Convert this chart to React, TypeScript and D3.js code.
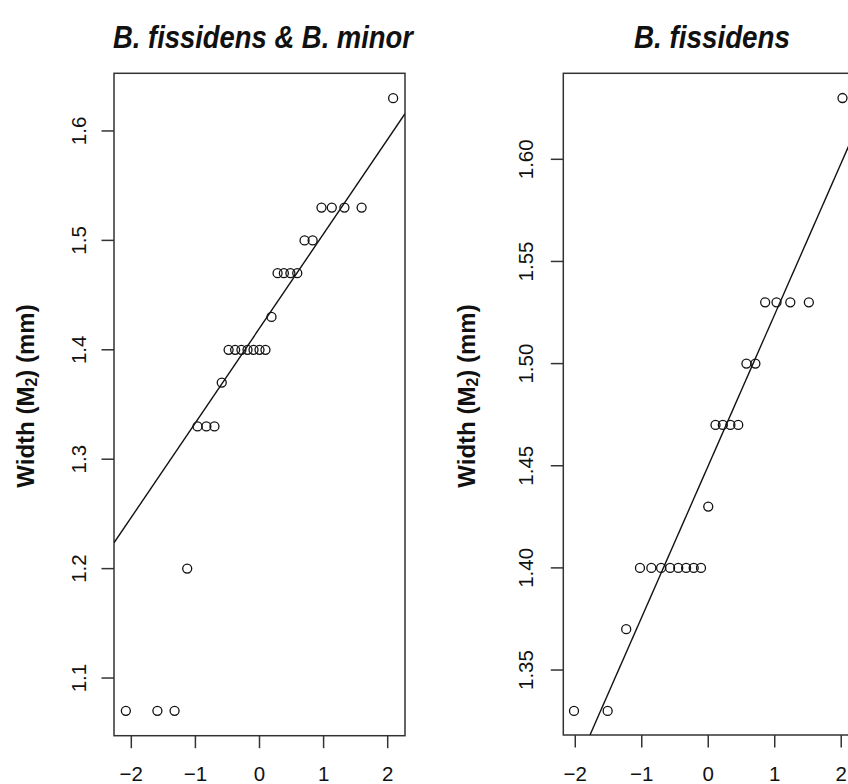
import React from "react";
import * as d3 from "d3";

// Left panel: B. fissidens & B. minor (normal Q-Q plot)
const leftTheoretical = [
  -2.085, -1.593, -1.325, -1.128, -0.967, -0.829, -0.703, -0.589, -0.482,
  -0.38, -0.282, -0.187, -0.093, 0, 0.093, 0.187, 0.282, 0.38, 0.482, 0.589,
  0.703, 0.829, 0.967, 1.128, 1.325, 1.593, 2.085,
];
const leftWidth = [
  1.07, 1.07, 1.07, 1.2, 1.33, 1.33, 1.33, 1.37, 1.4, 1.4, 1.4, 1.4, 1.4, 1.4,
  1.4, 1.43, 1.47, 1.47, 1.47, 1.47, 1.5, 1.5, 1.53, 1.53, 1.53, 1.53, 1.63,
];
const leftLine = { intercept: 1.4197, slope: 0.0864 };
const leftYTicks = [1.1, 1.2, 1.3, 1.4, 1.5, 1.6];

// Right panel: B. fissidens
const rightTheoretical = [
  -2.019, -1.513, -1.234, -1.027, -0.856, -0.709, -0.574, -0.451, -0.333,
  -0.219, -0.109, 0, 0.109, 0.219, 0.333, 0.451, 0.574, 0.709, 0.856, 1.027,
  1.234, 1.513, 2.019,
];
const rightWidth = [
  1.33, 1.33, 1.37, 1.4, 1.4, 1.4, 1.4, 1.4, 1.4, 1.4, 1.4, 1.43, 1.47, 1.47,
  1.47, 1.47, 1.5, 1.5, 1.53, 1.53, 1.53, 1.53, 1.63,
];
const rightLine = { intercept: 1.45, slope: 0.0741 };
const rightYTicks = [1.35, 1.4, 1.45, 1.5, 1.55, 1.6];

const xTicks = [-2, -1, 0, 1, 2];
const titles = ["B. fissidens & B. minor", "B. fissidens"];

const FONT = "'Liberation Sans', Arial, Helvetica, sans-serif";
const AXIS = "#333";

type PanelProps = {
  id: string;
  title: string;
  titleX: number;
  titleLen: number;
  xs: number[];
  ys: number[];
  line: { intercept: number; slope: number };
  yTicks: number[];
  yFmt: (v: number) => string;
  xDomain: [number, number];
  xRange: [number, number];
  yDomain: [number, number];
  yRange: [number, number];
  yLabelX: number;
  yTickLabelX: number;
};

function Panel(p: PanelProps) {
  const x = d3.scaleLinear().domain(p.xDomain).range(p.xRange);
  const y = d3.scaleLinear().domain(p.yDomain).range(p.yRange);
  const [x0, x1] = p.xRange;
  const [yb, yt] = p.yRange;
  const lineGen = d3
    .line<number>()
    .x((d) => x(d))
    .y((d) => y(p.line.intercept + p.line.slope * d));
  return (
    <g>
      <defs>
        <clipPath id={`clip-${p.id}`}>
          <rect x={x0} y={yt} width={x1 - x0} height={yb - yt} />
        </clipPath>
      </defs>
      <text
        x={p.titleX - p.titleLen / 2}
        y={48}
        fontFamily={FONT}
        fontWeight="bold"
        fontStyle="italic"
        fontSize={31}
        textLength={p.titleLen}
        lengthAdjust="spacingAndGlyphs"
        fill="#111"
      >
        {p.title}
      </text>
      <rect
        x={x0}
        y={yt}
        width={x1 - x0}
        height={yb - yt}
        fill="none"
        stroke={AXIS}
        strokeWidth={1.5}
      />
      {/* x axis */}
      {xTicks.map((t) => (
        <g key={`xt${t}`}>
          <line x1={x(t)} x2={x(t)} y1={yb} y2={yb + 12.5} stroke={AXIS} strokeWidth={1.5} />
          <text
            x={x(t)}
            y={781}
            textAnchor="middle"
            fontFamily={FONT}
            fontSize={20.5}
            fill="#111"
          >
            {t < 0 ? `\u2212${Math.abs(t)}` : `${t}`}
          </text>
        </g>
      ))}
      {/* y axis */}
      {p.yTicks.map((t) => (
        <g key={`yt${t}`}>
          <line x1={x0 - 12.5} x2={x0} y1={y(t)} y2={y(t)} stroke={AXIS} strokeWidth={1.5} />
          <text
            transform={`translate(${p.yTickLabelX},${y(t)}) rotate(-90)`}
            textAnchor="middle"
            fontFamily={FONT}
            fontSize={20.5}
            fill="#111"
          >
            {p.yFmt(t)}
          </text>
        </g>
      ))}
      <text
        transform={`translate(${p.yLabelX},396) rotate(-90)`}
        textAnchor="middle"
        fontFamily={FONT}
        fontWeight="bold"
        fontSize={24}
        fill="#111"
      >
        Width (M
        <tspan fontSize={16} dy={3}>2</tspan>
        <tspan dy={-3}>) (mm)</tspan>
      </text>
      <path
        d={lineGen(p.xDomain) || ""}
        fill="none"
        stroke="#111"
        strokeWidth={1.4}
        clipPath={`url(#clip-${p.id})`}
      />
      {p.xs.map((v, i) => (
        <circle
          key={i}
          cx={x(v)}
          cy={y(p.ys[i])}
          r={4.5}
          fill="none"
          stroke="#111"
          strokeWidth={1.3}
        />
      ))}
    </g>
  );
}

export default function App() {
  return (
    <svg
      width={848}
      height={784}
      viewBox="0 0 848 784"
      style={{ position: "absolute", left: 0, top: 0, background: "#fff" }}
    >
      <rect x={0} y={0} width={848} height={784} fill="#fff" />
      <Panel
        id="left"
        title={titles[0]}
        titleX={263}
        titleLen={300}
        xs={leftTheoretical}
        ys={leftWidth}
        line={leftLine}
        yTicks={leftYTicks}
        yFmt={d3.format(".1f")}
        xDomain={[-2.27, 2.27]}
        xRange={[114, 405]}
        yDomain={[1.0473, 1.6527]}
        yRange={[735.7, 73.3]}
        yLabelX={34}
        yTickLabelX={86}
      />
      <Panel
        id="right"
        title={titles[1]}
        titleX={712}
        titleLen={156}
        xs={rightTheoretical}
        ys={rightWidth}
        line={rightLine}
        yTicks={rightYTicks}
        yFmt={d3.format(".2f")}
        xDomain={[-2.18, 2.18]}
        xRange={[563.3, 853.2]}
        yDomain={[1.3182, 1.6421]}
        yRange={[735, 73.3]}
        yLabelX={475}
        yTickLabelX={533}
      />
    </svg>
  );
}
